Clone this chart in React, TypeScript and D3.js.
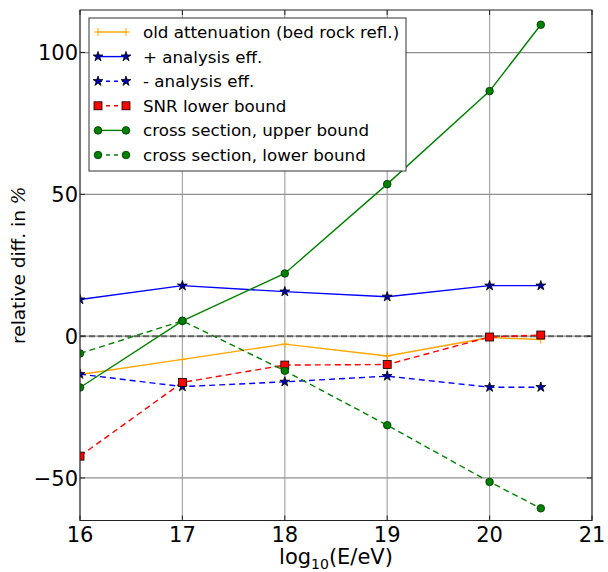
import React from "react";
import * as d3 from "d3";

const xs = [16, 17, 18, 19, 20, 20.5];
const oldAttenuation = [-13.5, -8.2, -2.8, -7.0, -0.5, -1.2];
const plusAnalysis = [12.9, 17.8, 15.7, 13.9, 17.8, 17.8];
const minusAnalysis = [-13.4, -17.8, -16.1, -14.1, -18.0, -18.0];
const snrLower = [-42.3, -16.3, -10.2, -10.0, -0.3, 0.4];
const xsUpper = [-18.1, 5.4, 22.1, 53.6, 86.4, 109.8];
const xsLower = [-6.1, 5.4, -12.2, -31.4, -51.4, -60.7];

const xTicks = [16, 17, 18, 19, 20, 21];
const yTicks = [-50, 0, 50, 100];
const yTickLabels = ["\u221250", "0", "50", "100"];

type Marker = "plus" | "star" | "square" | "circle";
type Series = { label: string; values: number[]; color: string; dash: string | null; marker: Marker; fill: string };

const series: Series[] = [
  { label: "old attenuation (bed rock refl.)", values: oldAttenuation, color: "#ffa500", dash: null, marker: "plus", fill: "#ffa500" },
  { label: "+ analysis eff.", values: plusAnalysis, color: "#0000ff", dash: null, marker: "star", fill: "#0000aa" },
  { label: "- analysis eff.", values: minusAnalysis, color: "#0000ff", dash: "6,4", marker: "star", fill: "#0000aa" },
  { label: "SNR lower bound", values: snrLower, color: "#ff0000", dash: "6,4", marker: "square", fill: "#ff0000" },
  { label: "cross section, upper bound", values: xsUpper, color: "#008000", dash: null, marker: "circle", fill: "#008000" },
  { label: "cross section, lower bound", values: xsLower, color: "#008000", dash: "6,4", marker: "circle", fill: "#008000" },
];

const L = 80, R = 592, T = 10, B = 520.5;
const x = d3.scaleLinear().domain([16, 21]).range([L, R]);
const y = d3.scaleLinear().domain([-65, 115]).range([B, T]);

const starPath = d3.symbol().type(d3.symbolStar).size(30)() as string;

function MarkerShape({ m, cx, cy, color, fill }: { m: Marker; cx: number; cy: number; color: string; fill: string }) {
  if (m === "plus") {
    return (
      <g stroke={color} strokeWidth={1}>
        <line x1={cx - 4} x2={cx + 4} y1={cy} y2={cy} />
        <line x1={cx} x2={cx} y1={cy - 4} y2={cy + 4} />
      </g>
    );
  }
  if (m === "star") {
    return <path d={starPath} transform={`translate(${cx},${cy})`} fill={fill} stroke="#000" strokeWidth={0.8} />;
  }
  if (m === "square") {
    return <rect x={cx - 4} y={cy - 4} width={8} height={8} fill={fill} stroke="#000" strokeWidth={0.8} />;
  }
  return <circle cx={cx} cy={cy} r={3.8} fill={fill} stroke="#003300" strokeWidth={0.8} />;
}

export default function App() {
  const line = d3
    .line<number>()
    .x((_, i) => x(xs[i]))
    .y((v) => y(v));
  const legendX = 89, legendY = 18, legendW = 317, legendH = 153;
  const rowY = (i: number) => 32 + i * 24.6;
  return (
    <svg width={608} height={572} style={{ position: "absolute", left: 0, top: 0, background: "#fff" }} fontFamily="DejaVu Sans">
      <defs>
        <clipPath id="plotclip">
          <rect x={L} y={T} width={R - L} height={B - T} />
        </clipPath>
      </defs>
      <rect x={0} y={0} width={608} height={572} fill="#fff" />
      {/* grid */}
      <g stroke="#a8a8a8" strokeWidth={1.2}>
        {xTicks.map((t) => (
          <line key={"gx" + t} x1={x(t)} x2={x(t)} y1={T} y2={B} />
        ))}
        {yTicks.map((t) => (
          <line key={"gy" + t} x1={L} x2={R} y1={y(t)} y2={y(t)} stroke="#909090" />
        ))}
      </g>
      {/* zero dashed line */}
      <line x1={L} x2={R} y1={y(0)} y2={y(0)} stroke="#555" strokeWidth={2} strokeDasharray="6,3" opacity={0.85} />
      {/* data */}
      <g clipPath="url(#plotclip)">
        {series.map((s, si) => (
          <g key={"s" + si}>
            <path d={line(s.values) as string} fill="none" stroke={s.color} strokeWidth={1.4} strokeDasharray={s.dash ?? undefined} />
            {s.values.map((v, i) => (
              <MarkerShape key={i} m={s.marker} cx={x(xs[i])} cy={y(v)} color={s.color} fill={s.fill} />
            ))}
          </g>
        ))}
      </g>
      {/* frame */}
      <rect x={L} y={T} width={R - L} height={B - T} fill="none" stroke="#222" strokeWidth={1} />
      {/* ticks */}
      <g stroke="#222" strokeWidth={1}>
        {xTicks.map((t) => (
          <g key={"tx" + t}>
            <line x1={x(t)} x2={x(t)} y1={B} y2={B - 5} />
            <line x1={x(t)} x2={x(t)} y1={T} y2={T + 5} />
          </g>
        ))}
        {yTicks.map((t) => (
          <g key={"ty" + t}>
            <line x1={L} x2={L + 5} y1={y(t)} y2={y(t)} />
            <line x1={R} x2={R - 5} y1={y(t)} y2={y(t)} />
          </g>
        ))}
      </g>
      {/* tick labels */}
      <g fontSize={21} fill="#000">
        {xTicks.map((t) => (
          <text key={"lx" + t} x={x(t)} y={542} textAnchor="middle">
            {t}
          </text>
        ))}
        {yTicks.map((t, i) => (
          <text key={"ly" + t} x={78} y={y(t) + 7.6} textAnchor="end">
            {yTickLabels[i]}
          </text>
        ))}
      </g>
      {/* axis labels */}
      <text x={(L + R) / 2} y={564} textAnchor="middle" fontSize={21} fill="#000">
        log
        <tspan fontSize={14} dy={5}>10</tspan>
        <tspan dy={-5}>(E/eV)</tspan>
      </text>
      <text transform={`translate(25,${(T + B) / 2}) rotate(-90)`} textAnchor="middle" fontSize={18.5} fill="#000">
        relative diff. in <tspan fontFamily="DejaVu Serif" fontStyle="italic">%</tspan>
      </text>
      {/* legend */}
      <rect x={legendX} y={legendY} width={legendW} height={legendH} fill="#fff" stroke="#333" strokeWidth={1} />
      {series.map((s, i) => {
        const yy = rowY(i);
        return (
          <g key={"lg" + i}>
            <line x1={98} x2={126} y1={yy} y2={yy} stroke={s.color} strokeWidth={1.4} strokeDasharray={s.dash ? "4,4" : undefined} />
            <MarkerShape m={s.marker} cx={98} cy={yy} color={s.color} fill={s.fill} />
            <MarkerShape m={s.marker} cx={126} cy={yy} color={s.color} fill={s.fill} />
            <text x={143} y={yy + 6} fontSize={16.7} fill="#000">
              {s.label}
            </text>
          </g>
        );
      })}
    </svg>
  );
}
